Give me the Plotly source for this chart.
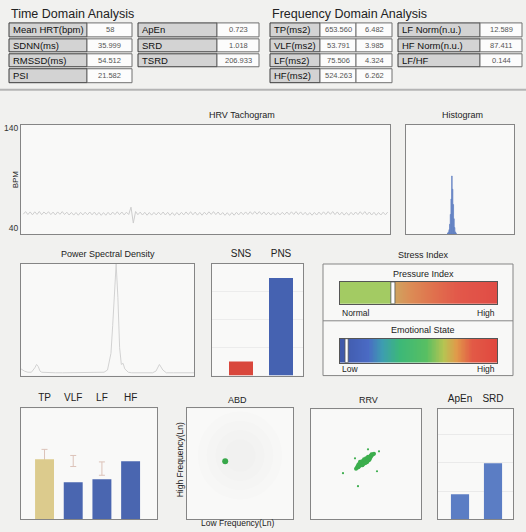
import plotly.graph_objects as go

W, H = 526, 532
FONT = "Liberation Sans Narrow, Arial Narrow, Liberation Sans, Arial, sans-serif"

# ---------------- data ----------------
time_labels_left = ["Mean HRT(bpm)", "SDNN(ms)", "RMSSD(ms)", "PSI"]
time_values_left = ["58", "35.999", "54.512", "21.582"]
time_labels_right = ["ApEn", "SRD", "TSRD"]
time_values_right = ["0.723", "1.018", "206.933"]

freq_labels_left = ["TP(ms2)", "VLF(ms2)", "LF(ms2)", "HF(ms2)"]
freq_power = ["653.560", "53.791", "75.506", "524.263"]
freq_ln = ["6.482", "3.985", "4.324", "6.262"]
freq_labels_right = ["LF Norm(n.u.)", "HF Norm(n.u.)", "LF/HF"]
freq_values_right = ["12.589", "87.411", "0.144"]

# tachogram (beat-by-beat heart rate, bpm)
tach_bpm = [
    53.8, 56.4, 53.5, 56.1, 53.2, 56.2, 53.6, 56.5, 53.3, 56.0,
    53.9, 56.3, 53.4, 55.9, 53.1, 56.1, 53.7, 56.4, 53.5, 55.8,
    53.0, 55.6, 52.9, 55.5, 52.8, 55.7, 53.1, 55.8, 53.3, 56.0,
    53.2, 55.9, 52.9, 55.6, 52.7, 55.4, 52.8, 55.7, 53.0, 55.9,
    53.4, 56.2, 53.3, 56.0, 53.1, 55.8, 53.5, 60.8, 45.0, 56.5,
    53.3, 55.9, 53.0, 55.7, 52.8, 55.5, 52.9, 55.6, 53.1, 55.8,
    53.2, 56.0, 53.0, 55.7, 52.7, 55.4, 52.6, 55.5, 52.9, 55.7,
    53.1, 56.1, 53.4, 56.3, 53.2, 55.9, 52.9, 55.6, 52.8, 55.8,
    53.3, 56.2, 53.6, 56.4, 53.4, 56.0, 53.0, 55.5, 52.7, 55.3,
    52.6, 55.4, 52.8, 55.7, 53.1, 55.9, 53.3, 56.1, 53.5, 56.3,
    53.7, 56.5, 53.8, 56.4, 53.5, 56.1, 53.2, 55.8, 53.0, 55.6,
    52.9, 55.5, 53.1, 55.7, 53.3, 56.0, 53.4, 56.2, 53.6, 56.4,
    53.5, 56.1, 53.2, 55.7, 52.9, 55.4, 52.8, 55.6, 53.0, 55.9,
    53.3, 56.2, 53.5, 56.4, 53.7, 56.5, 53.4, 56.1, 53.1, 55.8,
    52.9, 55.5, 52.8, 55.7, 53.1, 56.0, 53.4, 56.3, 53.6, 56.4,
    53.3, 56.0, 53.0, 55.7, 52.8, 55.5, 53.0, 55.8, 53.2, 55.9,
]
tach_ticks = [40, 140]

# histogram of RR intervals (ms)
hist_centers = [930, 945, 960, 975, 990, 1005, 1020, 1035, 1050, 1065, 1080, 1095, 1110]
hist_counts = [1, 2, 4, 9, 18, 32, 53, 41, 27, 14, 6, 2, 1]

# power spectral density
psd_freq = [0.00, 0.01, 0.02, 0.03, 0.04, 0.045, 0.05, 0.055, 0.06, 0.08, 0.10, 0.12,
            0.15, 0.18, 0.20, 0.22, 0.24, 0.25, 0.26, 0.265, 0.27, 0.275, 0.28, 0.285,
            0.29, 0.295, 0.30, 0.31, 0.32, 0.34, 0.36, 0.38, 0.39, 0.40, 0.41, 0.42,
            0.44, 0.46, 0.48, 0.50]
psd_power = [6, 4, 3, 3, 7, 10, 8, 4, 3, 2.5, 2.5, 2.5,
             2.5, 2.5, 2.5, 2.5, 3, 5, 20, 45, 80, 100, 70, 25,
             10, 11, 6, 3, 2.5, 2.5, 2.5, 2.5, 4, 10, 5, 2.5,
             2.5, 2.5, 2.5, 2.5]

# autonomic balance
ans_names = ["SNS", "PNS"]
ans_values = [12.589, 87.411]

# stress index markers (percent of scale)
pressure_index = 33.7
emotional_state = 4.2

# band powers (ln ms2) with reference ranges
band_names = ["TP", "VLF", "LF", "HF"]
band_ln = [6.482, 3.985, 4.324, 6.262]
band_ref_low = [5.6, 5.7, 4.75, 4.9]
band_ref_high = [7.56, 6.9, 6.2, 6.0]

# ABD point (ln LF, ln HF)
abd_lf = [4.324]
abd_hf = [6.262]

# RRV (Poincare) RR(n) vs RR(n+1), ms
rrv_n = [950, 960, 965, 975, 980, 985, 990, 995, 1000, 1005, 1010, 1015, 1020, 1025,
         1030, 1035, 1040, 1045, 1050, 1055, 1060, 1065, 1070, 1075, 1080, 1085, 1090,
         1095, 1100, 1110, 1120, 1130, 1000, 1010, 1020, 1040, 1050, 1060, 1070, 1080,
         990, 1030, 1045, 1065, 1090, 975, 1105, 1015]
rrv_n1 = [1005, 1015, 1030, 1020, 1040, 1050, 1035, 1060, 1045, 1065, 1055, 1075, 1070,
          1085, 1060, 1090, 1080, 1095, 1085, 1100, 1090, 1110, 1100, 1115, 1105, 1125,
          1120, 1135, 1125, 1140, 1150, 1155, 1070, 1080, 1050, 1060, 1110, 1070, 1125,
          1090, 1075, 1100, 1065, 1085, 1105, 1050, 1150, 1040]
rrv_out_n = [1070, 1180, 940, 820, 1160, 970]
rrv_out_n1 = [1200, 1180, 1110, 960, 980, 830]

# complexity
cx_names = ["ApEn", "SRD"]
cx_values = [0.723, 1.018]

# ---------------- helpers ----------------
def xd(a, b):
    return [a / W, b / W]


def yd(a, b):
    return [1 - b / H, 1 - a / H]


shapes = []
annotations = []


def ann(text, x, y, size=10, color="#222", xanchor="center", yanchor="middle", angle=0):
    annotations.append(dict(text=text, x=x / W, y=1 - y / H, xref="paper", yref="paper",
                            showarrow=False, xanchor=xanchor, yanchor=yanchor,
                            textangle=angle, font=dict(family=FONT, size=size, color=color)))


def prect(x0, y0, x1, y1, fill, line, lw=1, layer="below"):
    shapes.append(dict(type="rect", xref="paper", yref="paper", x0=x0 / W, x1=x1 / W,
                       y0=1 - y1 / H, y1=1 - y0 / H, fillcolor=fill,
                       line=dict(color=line, width=lw), layer=layer))


def pline(x0, y0, x1, y1, color, lw=1):
    shapes.append(dict(type="line", xref="paper", yref="paper", x0=x0 / W, x1=x1 / W,
                       y0=1 - y0 / H, y1=1 - y1 / H, line=dict(color=color, width=lw),
                       layer="below"))


BORDER = "#858585"
LABEL_FILL = "#d3d3d3"
LABEL_LINE = "#3c3c3c"
VALUE_FILL = "#fcfcfc"
VALUE_LINE = "#707070"
LAB = 9.5
VAL = 7.5

# ---------------- header tables ----------------
ann("Time Domain Analysis", 9, 12, size=12.5, color="#222", xanchor="left")
ann("Frequency Domain Analysis", 270, 12, size=12.5, color="#222", xanchor="left")

rows = [(21, 35), (37, 50), (52, 65), (67, 81)]

for i, (lab, val) in enumerate(zip(time_labels_left, time_values_left)):
    y0, y1 = rows[i]
    prect(9, y0, 87, y1, LABEL_FILL, LABEL_LINE)
    prect(87, y0, 132, y1, VALUE_FILL, VALUE_LINE)
    ann(lab, 11, (y0 + y1) / 2, size=LAB, xanchor="left", color="#111")
    ann(val, 109.5, (y0 + y1) / 2, size=VAL, color="#555")

for i, (lab, val) in enumerate(zip(time_labels_right, time_values_right)):
    y0, y1 = rows[i]
    prect(138, y0, 217, y1, LABEL_FILL, LABEL_LINE)
    prect(217, y0, 259, y1, VALUE_FILL, VALUE_LINE)
    ann(lab, 140, (y0 + y1) / 2, size=LAB, xanchor="left", color="#111")
    ann(val, 238, (y0 + y1) / 2, size=VAL, color="#555")

for i, lab in enumerate(freq_labels_left):
    y0, y1 = rows[i]
    prect(270, y0, 320, y1, LABEL_FILL, LABEL_LINE)
    prect(320, y0, 356, y1, VALUE_FILL, VALUE_LINE)
    prect(356, y0, 392, y1, VALUE_FILL, VALUE_LINE)
    ann(lab, 272, (y0 + y1) / 2, size=LAB, xanchor="left", color="#111")
    ann(freq_power[i], 338, (y0 + y1) / 2, size=VAL, color="#555")
    ann(freq_ln[i], 374, (y0 + y1) / 2, size=VAL, color="#555")

for i, (lab, val) in enumerate(zip(freq_labels_right, freq_values_right)):
    y0, y1 = rows[i]
    prect(398, y0, 480, y1, LABEL_FILL, LABEL_LINE)
    prect(480, y0, 522, y1, VALUE_FILL, VALUE_LINE)
    ann(lab, 400, (y0 + y1) / 2, size=LAB, xanchor="left", color="#111")
    ann(val, 501, (y0 + y1) / 2, size=VAL, color="#555")

pline(0, 88, 526, 88, "#b4b4b4", 2)

# ---------------- panel titles ----------------
ann("HRV Tachogram", 242, 113, size=9)
ann("Histogram", 462, 113, size=9)
ann("Power Spectral Density", 108, 253, size=9)
ann("Stress Index", 423, 254, size=9)
ann("ABD", 237, 400, size=9)
ann("RRV", 368, 400, size=9)
ann("BPM", 15, 178, size=8, angle=-90)
ann("High Frequency(Ln)", 180, 460, size=8.5, angle=-90)
ann("Low Frequency(Ln)", 237, 523, size=8.5)

# stress index panel
prect(323, 263, 513, 375, "#f8f8f7", BORDER)
pline(323, 320, 513, 320, BORDER, 1)
ann("Pressure Index", 423, 273, size=9)
ann("Normal", 340, 312, size=8.5, xanchor="left")
ann("High", 497, 312, size=8.5, xanchor="right")
ann("Emotional State", 423, 329, size=9)
ann("Low", 340, 368, size=8.5, xanchor="left")
ann("High", 497, 368, size=8.5, xanchor="right")

# ---------------- figure ----------------
fig = go.Figure()
base_axis = dict(showline=True, mirror=True, linecolor=BORDER, linewidth=1,
                 showgrid=False, zeroline=False, ticks="", showticklabels=False,
                 fixedrange=True)
layout = {}
TICKFONT = dict(family=FONT, size=10, color="#222")


def add_axes(n, xr, yr, xkw=None, ykw=None):
    key = "" if n == 1 else str(n)
    xa = dict(base_axis, domain=xd(*xr), anchor="y" + key)
    ya = dict(base_axis, domain=yd(*yr), anchor="x" + key)
    if xkw:
        xa.update(xkw)
    if ykw:
        ya.update(ykw)
    layout["xaxis" + key] = xa
    layout["yaxis" + key] = ya
    return "x" + key, "y" + key


# 1 tachogram
xa, ya = add_axes(1, (21, 390), (123, 233),
                  xkw=dict(range=[-1, len(tach_bpm)]),
                  ykw=dict(range=[34, 143], tickvals=tach_ticks, showticklabels=True,
                           tickfont=dict(family=FONT, size=8.5, color="#333")))
fig.add_trace(go.Scatter(x=list(range(len(tach_bpm))), y=tach_bpm, mode="lines",
                         line=dict(color="#cdcdcd", width=1), xaxis=xa, yaxis=ya))

# 2 histogram
xa, ya = add_axes(2, (406, 514), (123, 233),
                  xkw=dict(range=[0, 2400]), ykw=dict(range=[0, 100]))
fig.add_trace(go.Bar(x=hist_centers, y=hist_counts, width=15,
                     marker=dict(color="#86a0d6", line=dict(color="#5d7cc0", width=0.6)),
                     xaxis=xa, yaxis=ya))

# 3 PSD
xa, ya = add_axes(3, (21, 194), (263, 375),
                  xkw=dict(range=[0, 0.5]), ykw=dict(range=[0, 100]))
fig.add_trace(go.Scatter(x=psd_freq, y=psd_power, mode="lines",
                         line=dict(color="#d2d2d2", width=1), xaxis=xa, yaxis=ya))

# 4 SNS / PNS
xa, ya = add_axes(4, (212, 303), (263, 375),
                  xkw=dict(type="category", range=[-0.725, 1.55], side="top",
                           showticklabels=True, ticklabelstandoff=2, tickfont=TICKFONT),
                  ykw=dict(range=[0, 100], showgrid=True, gridcolor="#ececec",
                           tickvals=[25, 50, 75]))
fig.add_trace(go.Bar(x=ans_names, y=ans_values, width=0.6,
                     marker=dict(color=["#d9473c", "#4562b1"], line=dict(width=0)),
                     xaxis=xa, yaxis=ya))

# 5 pressure index gradient
grad_pos = [i * 0.5 for i in range(201)]
pressure_scale = [[0, "#a3cb63"], [0.325, "#a3cb63"], [0.35, "#cfa35f"], [0.45, "#dc8c55"],
                  [0.6, "#e0704d"], [0.75, "#e2584a"], [1, "#e04c45"]]
emotion_scale = [[0, "#3f58a8"], [0.18, "#4a6ac4"], [0.27, "#3d9db0"], [0.38, "#3cb878"],
                 [0.55, "#58bf62"], [0.66, "#b6c452"], [0.74, "#e09a4a"], [0.84, "#e25a46"],
                 [1, "#e0473f"]]
xa, ya = add_axes(5, (340, 497), (281, 303),
                  xkw=dict(range=[0, 100], linecolor="#555"),
                  ykw=dict(range=[0, 1], linecolor="#555"))
fig.add_trace(go.Heatmap(x=grad_pos, y=[0.5], z=[grad_pos], colorscale=pressure_scale,
                         zmin=0, zmax=100, showscale=False, xaxis=xa, yaxis=ya,
                         hoverinfo="skip"))
shapes.append(dict(type="rect", xref=xa, yref=ya, x0=pressure_index - 1.3,
                   x1=pressure_index + 1.3, y0=0, y1=1, fillcolor="#ffffff",
                   line=dict(color="#555", width=0.8)))

# 6 emotional state gradient
xa, ya = add_axes(6, (340, 497), (338, 362),
                  xkw=dict(range=[0, 100], linecolor="#555"),
                  ykw=dict(range=[0, 1], linecolor="#555"))
fig.add_trace(go.Heatmap(x=grad_pos, y=[0.5], z=[grad_pos], colorscale=emotion_scale,
                         zmin=0, zmax=100, showscale=False, xaxis=xa, yaxis=ya,
                         hoverinfo="skip"))
shapes.append(dict(type="rect", xref=xa, yref=ya, x0=emotional_state - 1.0,
                   x1=emotional_state + 1.0, y0=0, y1=1, fillcolor="#ffffff",
                   line=dict(color="#555", width=0.8)))

# 7 band reference ranges (underneath) + 8 band bars (overlay)
xa, ya = add_axes(7, (21, 157), (408, 519),
                  xkw=dict(type="category", range=[-0.82, 3.92], side="top",
                           showticklabels=True, ticklabelstandoff=2, tickfont=TICKFONT),
                  ykw=dict(range=[0, 12]))
mid = [(lo + hi) / 2 for lo, hi in zip(band_ref_low, band_ref_high)]
half = [(hi - lo) / 2 for lo, hi in zip(band_ref_low, band_ref_high)]
fig.add_trace(go.Scatter(x=band_names, y=mid, mode="markers", marker=dict(opacity=0),
                         error_y=dict(type="data", array=half, visible=True,
                                      color="#dcc3b9", thickness=1, width=3),
                         xaxis=xa, yaxis=ya, hoverinfo="skip"))
layout["xaxis8"] = dict(base_axis, domain=xd(21, 157), anchor="y8", overlaying="x7",
                        type="category", range=[-0.82, 3.92], showline=False)
layout["yaxis8"] = dict(base_axis, domain=yd(408, 519), anchor="x8", overlaying="y7",
                        range=[0, 12], showline=False)
fig.add_trace(go.Bar(x=band_names, y=band_ln, width=0.66,
                     marker=dict(color=["#dccb8d", "#4a66b0", "#4a66b0", "#4a66b0"],
                                 line=dict(width=0)),
                     xaxis="x8", yaxis="y8"))

# 9 ABD
xa, ya = add_axes(9, (187, 293), (408, 519),
                  xkw=dict(range=[0, 12]), ykw=dict(range=[0, 12]))
for r in [4.8, 3.8, 2.8, 1.8]:
    shapes.append(dict(type="circle", xref=xa, yref=ya, x0=6.0 - r, x1=6.0 + r,
                       y0=6.9 - r, y1=6.9 + r, fillcolor="rgba(0,0,0,0.009)",
                       line=dict(width=0), layer="below"))
fig.add_trace(go.Scatter(x=abd_lf, y=abd_hf, mode="markers",
                         marker=dict(color="#38a84a", size=6), xaxis=xa, yaxis=ya))

# 10 RRV
xa, ya = add_axes(10, (311, 421), (409, 519),
                  xkw=dict(range=[500, 1600]), ykw=dict(range=[500, 1600]))
fig.add_trace(go.Scatter(x=rrv_n, y=rrv_n1, mode="markers",
                         marker=dict(color="#3cae4d", size=4), xaxis=xa, yaxis=ya))
fig.add_trace(go.Scatter(x=rrv_out_n, y=rrv_out_n1, mode="markers",
                         marker=dict(color="#3cae4d", size=2.2), xaxis=xa, yaxis=ya))

# 11 ApEn / SRD
xa, ya = add_axes(11, (438, 513), (409, 519),
                  xkw=dict(type="category", range=[-0.667, 1.606], side="top",
                           showticklabels=True, ticklabelstandoff=2, tickfont=TICKFONT),
                  ykw=dict(range=[0.486, 1.533], showgrid=True, gridcolor="#eaeaea",
                           tickvals=[0.753, 1.029, 1.295]))
fig.add_trace(go.Bar(x=cx_names, y=cx_values, width=0.55,
                     marker=dict(color="#5b7dc4", line=dict(width=0)),
                     xaxis=xa, yaxis=ya))

fig.update_layout(
    width=W, height=H, margin=dict(l=0, r=0, t=0, b=0),
    paper_bgcolor="#f1f1ef", plot_bgcolor="#f9f9f8",
    showlegend=False, shapes=shapes, annotations=annotations,
    font=dict(family=FONT, color="#222"),
    **layout,
)

fig.write_html("out.html")
